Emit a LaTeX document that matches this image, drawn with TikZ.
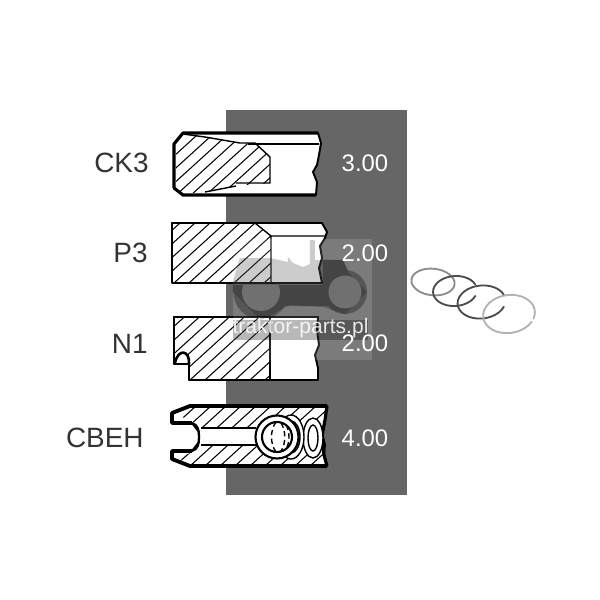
\documentclass[tikz,border=0pt]{standalone}
\usepackage{fontspec}
\setmainfont{Liberation Sans}
\definecolor{panelgray}{HTML}{666666}
\definecolor{labelgray}{HTML}{333333}
\newcommand{\hatchlines}[4]{% bottom y, from, next, to
	\foreach \hx in {#2,#3,...,#4} {
		\draw[hatch] (\hx,#1) -- ++(110,-100);
	}
}
\newcommand{\ringarc}[7]{% centre x, centre y, rx, ry, tilt, start, end
	\draw[shift={(#1,#2)}, rotate=#5] (#6:#3 and #4) arc[start angle=#6, end angle=#7, x radius=#3, y radius=#4];
}
\begin{document}
\begin{tikzpicture}[x=0.02cm,y=-0.02cm,
		profile/.style={draw=black, line width=1.1pt, line join=round, fill=white},
		thickedge/.style={draw=black, line width=1.8pt, line join=round},
		hatch/.style={draw=black, line width=0.6pt},
		thinedge/.style={draw=black, line width=0.8pt},
		coil/.style={draw=black, line width=0.8pt},
		ringline/.style={line width=1.05pt, line cap=round},
		sizelabel/.style={text=white, font=\fontsize{13.6pt}{16pt}\selectfont, anchor=center, inner sep=0pt},
		partlabel/.style={text=labelgray, font=\fontsize{15.9pt}{18pt}\selectfont, anchor=east, inner sep=0pt},
		stamp/.style={fill=black, opacity=0.2}]
	\useasboundingbox (0,0) rectangle (600,600);
	\fill[white] (0,0) rectangle (600,600);
	\fill[panelgray] (226,110) rectangle (407,495);

	% CK3
	\path[profile] (183,133) -- (318,133) -- (321,143) -- (319,155) -- (317,165) -- (313,172) -- (317,182) -- (316,195) -- (183,195) -- (174,188) -- (174,144) -- cycle;
	\begin{scope}
		\clip (176,144) -- (183,134) -- (205,136) -- (240,143) -- (255,144) -- (270,157) -- (270,183) -- (235,186) -- (205,192) -- (183,194) -- (176,187) -- cycle;
		\hatchlines{196}{115}{130}{270}
	\end{scope}
	\draw[thinedge] (183,134) -- (205,137) -- (240,143) -- (255,143) -- (270,157) -- (270,183) -- (236,183) (236,186) -- (205,192);
	\draw[thinedge] (248,144) -- (319,144);
	\draw[thickedge] (174,188) -- (174,144) -- (183,133) -- (318,133) (174,188) -- (183,195) -- (316,195);

	% P3
	\path[profile] (172,223) -- (322,223) -- (327,232) -- (325,238) -- (320,246) -- (322,258) -- (319,268) -- (322,283) -- (172,283) -- cycle;
	\begin{scope}
		\clip (172,223) -- (255,223) -- (271,236) -- (271,283) -- (172,283) -- cycle;
		\hatchlines{283}{114}{129}{270}
	\end{scope}
	\draw[thinedge] (255,223) -- (271,236) -- (325,236) (271,236) -- (271,283);
	\draw[thickedge, line width=1.5pt] (172,283) -- (172,223) -- (322,223) (172,283) -- (322,283);

	% N1
	\path[profile] (174,317) -- (318,317) -- (317,330) -- (319,345) -- (315,355) -- (318,368) -- (318,380) -- (189,380) -- (189,364) -- (174,364) -- cycle;
	\begin{scope}
		\clip (174,317) -- (270,317) -- (270,380) -- (189,380) -- (189,364) .. controls (190,352) and (180,350) .. (175,363) -- (174,364) -- cycle;
		\hatchlines{380}{115}{130}{270}
	\end{scope}
	\draw[thickedge, line width=1.5pt] (189,364) .. controls (190,350) and (178,348) .. (175,363);
	\draw[thickedge, line width=1.5pt] (318,317) -- (174,317) -- (174,364) -- (189,364) -- (189,380) -- (318,380);
	\draw[thickedge, line width=1.2pt] (270,317) -- (270,380);

	% CBEH
	\path[profile] (190,406) -- (327,406) -- (325,420) -- (322,432) -- (325,445) -- (324,455) -- (327,466) -- (190,466) -- (172,459) -- (172,451) -- (192,451) -- (199,442) -- (199,432) -- (192,423) -- (172,423) -- (172,413) -- cycle;
	\begin{scope}
		\clip (190,406) -- (327,406) -- (322,436) -- (327,466) -- (190,466) -- (178,458) -- (195,451) -- (201,445) -- (262,445) -- (262,428) -- (201,428) -- (195,423) -- (178,415) -- cycle;
		\hatchlines{466}{115}{130}{325}
	\end{scope}
	\draw[thinedge] (201,428) -- (256,428) (201,445) -- (256,445);
	\draw[thickedge, line width=2.2pt] (327,406) -- (190,406) -- (172,413) -- (172,423) -- (192,423);
	\draw[thickedge, line width=2.2pt] (327,466) -- (190,466) -- (172,459) -- (172,451) -- (192,451);
	\draw[thickedge] (327,406) -- (325,420) -- (322,436) -- (324,455) -- (327,466);
	\draw[thickedge, line width=1.3pt] (192,423) .. controls (198,425) and (199,430) .. (199,437) .. controls (199,444) and (198,449) .. (192,451);
	\draw[coil, fill=white] (313,438) ellipse (10 and 20);
	\draw[coil, fill=white] (313,438) ellipse (5 and 13);
	\draw[coil, fill=white] (291,437) ellipse (13 and 22);
	\draw[coil, fill=white] (291,437) ellipse (9 and 16);
	\draw[thickedge, line width=1.2pt, fill=white] (277,437) circle (21.5);
	\draw[thickedge, line width=1.2pt, fill=white] (277,437) circle (15);
	\draw[coil, densely dashed] (276,422) .. controls (270,430) and (270,444) .. (276,452);
	\draw[coil, densely dashed] (281,423) .. controls (286,430) and (286,444) .. (281,451);
	\draw[coil, densely dashed] (286,425) .. controls (290,431) and (290,443) .. (286,449);

	% watermark
	\fill[white, opacity=0.14] (233,239) rectangle (372,360);
	\path[stamp] (233,281) -- (240,258) -- (270,258) -- (288,262) -- (288,257) -- (293,263) -- (303,267) -- (310,264) -- (310,240) -- (315,240) -- (315,260) -- (343,260) -- (349,273) -- (367,292) -- (345,314) -- (323,307) -- (290,305) -- (261,320) -- (233,292) -- cycle;
	\begin{scope}
		\clip (226,285) rectangle (372,317) (323,239) rectangle (372,285);
		\fill[black, opacity=0.3] (233,281) -- (240,258) -- (343,260) -- (349,273) -- (350,306) -- (261,306) -- (233,292) -- cycle (261,292) circle (27.5) (345,292) circle (22);
		\fill[black!56] (261,292) circle (19) (345,292) circle (16.5);
	\end{scope}
	\fill[black, opacity=0.28] (233,320) rectangle (368,340);
	\node[text=white, opacity=0.85, font=\fontsize{12pt}{14pt}\selectfont, anchor=center, inner sep=0pt] (stamptext) at (300.5,328.5) {traktor-parts.pl};

	% labels
	\node[partlabel] (ck3) at (149,163) {CK3};
	\node[partlabel] (p3) at (148,253) {P3};
	\node[partlabel] (n1) at (148,344) {N1};
	\node[partlabel] (cbeh) at (144,438) {CBEH};
	\node[sizelabel] (ck3size) at (365,163) {3.00};
	\node[sizelabel] (p3size) at (365,253) {2.00};
	\node[sizelabel] (n1size) at (365,343) {2.00};
	\node[sizelabel] (cbehsize) at (365,438) {4.00};

	% rings
	\begin{scope}[ringline]
		\begin{scope}[draw=gray!90]
			\ringarc{433}{282}{21.7}{13.3}{-6}{0}{360}
		\end{scope}
		\begin{scope}[draw=black!70]
			\ringarc{455}{291}{22}{15}{4}{25}{340}
			\ringarc{481.5}{302}{24}{16.5}{6}{25}{345}
		\end{scope}
		\begin{scope}[draw=gray!60]
			\ringarc{509}{314}{26}{19}{8}{35}{385}
		\end{scope}
	\end{scope}
\end{tikzpicture}
\end{document}
